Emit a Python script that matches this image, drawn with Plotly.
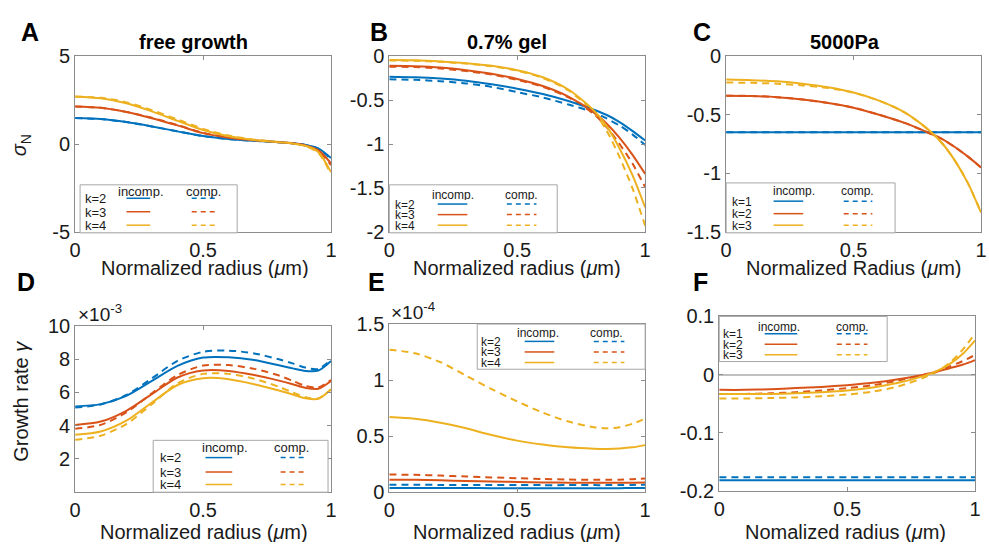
import plotly.graph_objects as go

# ---------------- data ----------------
radius = [0, 0.1, 0.2, 0.3, 0.4, 0.5, 0.6, 0.7, 0.8, 0.85, 0.9, 0.95, 1.0]

# Panel A: free growth, sigma_N
A_k2_inc = [1.48, 1.42, 1.25, 1.0, 0.72, 0.45, 0.28, 0.18, 0.1, 0.05, -0.05, -0.25, -0.8]
A_k3_inc = [2.14, 2.06, 1.82, 1.47, 1.06, 0.62, 0.36, 0.21, 0.1, 0.04, -0.08, -0.35, -1.1]
A_k4_inc = [2.69, 2.6, 2.32, 1.86, 1.32, 0.8, 0.44, 0.23, 0.1, 0.03, -0.1, -0.45, -1.6]
A_k2_cmp = [1.48, 1.42, 1.25, 1.0, 0.72, 0.45, 0.28, 0.18, 0.1, 0.05, -0.05, -0.27, -0.85]
A_k3_cmp = [2.14, 2.06, 1.83, 1.49, 1.08, 0.64, 0.37, 0.21, 0.1, 0.04, -0.09, -0.38, -1.2]
A_k4_cmp = [2.7, 2.63, 2.37, 1.93, 1.4, 0.86, 0.48, 0.25, 0.11, 0.03, -0.12, -0.5, -1.7]

# Panel B: 0.7% gel, sigma_N
B_k2_inc = [-0.234, -0.24, -0.255, -0.28, -0.32, -0.37, -0.43, -0.51, -0.61, -0.67, -0.75, -0.85, -0.96]
B_k3_inc = [-0.11, -0.115, -0.13, -0.16, -0.2, -0.26, -0.34, -0.46, -0.64, -0.77, -0.93, -1.12, -1.34]
B_k4_inc = [-0.044, -0.047, -0.06, -0.08, -0.11, -0.16, -0.24, -0.38, -0.62, -0.8, -1.05, -1.35, -1.72]
B_k2_cmp = [-0.263, -0.27, -0.285, -0.31, -0.35, -0.41, -0.47, -0.55, -0.64, -0.71, -0.79, -0.89, -1.01]
B_k3_cmp = [-0.12, -0.125, -0.14, -0.17, -0.21, -0.27, -0.35, -0.47, -0.66, -0.81, -1.0, -1.22, -1.49]
B_k4_cmp = [-0.05, -0.053, -0.065, -0.085, -0.115, -0.165, -0.25, -0.39, -0.64, -0.85, -1.15, -1.5, -1.93]

# Panel C: 5000Pa, sigma_N
C_k1_inc = [-0.65] * 13
C_k2_inc = [-0.337, -0.34, -0.35, -0.37, -0.40, -0.44, -0.5, -0.57, -0.66, -0.71, -0.78, -0.86, -0.95]
C_k3_inc = [-0.2, -0.205, -0.215, -0.235, -0.265, -0.31, -0.38, -0.48, -0.64, -0.75, -0.9, -1.09, -1.335]
C_k1_cmp = [-0.65] * 13
C_k2_cmp = [-0.337, -0.34, -0.35, -0.37, -0.40, -0.44, -0.5, -0.57, -0.66, -0.71, -0.78, -0.86, -0.95]
C_k3_cmp = [-0.225, -0.228, -0.235, -0.25, -0.272, -0.312, -0.38, -0.48, -0.64, -0.75, -0.9, -1.09, -1.335]

# Panel D: free growth, growth rate (x 1e-3)
D_k2_inc = [5.16, 5.3, 5.8, 6.7, 7.6, 8.1, 8.12, 7.95, 7.62, 7.45, 7.3, 7.32, 7.9]
D_k3_inc = [4.05, 4.25, 4.9, 5.9, 6.9, 7.32, 7.3, 7.05, 6.7, 6.5, 6.28, 6.22, 6.69]
D_k4_inc = [3.46, 3.65, 4.3, 5.4, 6.45, 6.86, 6.8, 6.5, 6.1, 5.88, 5.65, 5.62, 6.18]
D_k2_cmp = [5.1, 5.28, 5.85, 6.85, 7.9, 8.45, 8.52, 8.35, 7.98, 7.75, 7.5, 7.42, 7.97]
D_k3_cmp = [3.82, 4.05, 4.8, 5.95, 7.05, 7.62, 7.65, 7.42, 7.0, 6.7, 6.4, 6.3, 6.75]
D_k4_cmp = [3.15, 3.4, 4.1, 5.3, 6.55, 7.12, 7.12, 6.82, 6.32, 6.0, 5.72, 5.64, 6.2]

# Panel E: 0.7% gel, growth rate (x 1e-4)
E_k2_inc = [0.037, 0.037, 0.037, 0.037, 0.036, 0.036, 0.036, 0.036, 0.036, 0.036, 0.036, 0.037, 0.037]
E_k3_inc = [0.111, 0.11, 0.106, 0.1, 0.095, 0.091, 0.087, 0.085, 0.084, 0.084, 0.084, 0.085, 0.086]
E_k4_inc = [0.67, 0.655, 0.62, 0.57, 0.51, 0.46, 0.425, 0.40, 0.388, 0.386, 0.39, 0.40, 0.42]
E_k2_cmp = [0.066, 0.066, 0.065, 0.065, 0.064, 0.064, 0.063, 0.063, 0.063, 0.063, 0.064, 0.065, 0.066]
E_k3_cmp = [0.157, 0.155, 0.148, 0.14, 0.132, 0.125, 0.118, 0.113, 0.11, 0.11, 0.112, 0.116, 0.123]
E_k4_cmp = [1.27, 1.24, 1.16, 1.04, 0.92, 0.81, 0.71, 0.63, 0.58, 0.57, 0.58, 0.61, 0.657]

# Panel F: 5000Pa, growth rate
F_k1_inc = [-0.181] * 13
F_k2_inc = [-0.026, -0.026, -0.025, -0.023, -0.021, -0.018, -0.014, -0.008, 0.0, 0.005, 0.011, 0.017, 0.025]
F_k3_inc = [-0.033, -0.033, -0.033, -0.032, -0.03, -0.027, -0.022, -0.014, -0.002, 0.006, 0.018, 0.035, 0.059]
F_k1_cmp = [-0.176] * 13
F_k2_cmp = [-0.033, -0.033, -0.032, -0.03, -0.027, -0.023, -0.018, -0.01, 0.0, 0.006, 0.014, 0.023, 0.034]
F_k3_cmp = [-0.041, -0.041, -0.040, -0.039, -0.037, -0.034, -0.029, -0.02, -0.005, 0.005, 0.02, 0.042, 0.071]

x_ticks = [0, 0.5, 1]
x_ticktext = ["0", "0.5", "1"]
A_yticks = [-5, 0, 5]
B_yticks = [-2, -1.5, -1, -0.5, 0]
C_yticks = [-1.5, -1, -0.5, 0]
D_yticks = [2, 4, 6, 8, 10]
E_yticks = [0, 0.5, 1, 1.5]
F_yticks = [-0.2, -0.1, 0, 0.1]

# ---------------- style / layout ----------------
W, H = 989, 556
BLUE, RED, YEL = "#0072BD", "#D95319", "#EDB120"
COLORS = [BLUE, RED, YEL]
FONT = "Liberation Sans, Arial, Helvetica, sans-serif"
TXT = "#1a1a1a"
AXC = "#8c8c8c"


def px(x):
    return x / W


def py(y):
    return 1 - y / H


def fmt(v):
    return "%g" % v


panels = [
    dict(inc=[A_k2_inc, A_k3_inc, A_k4_inc], cmp=[A_k2_cmp, A_k3_cmp, A_k4_cmp],
         yr=[-5, 5], yt=A_yticks, box=(70, 47, 329, 230)),
    dict(inc=[B_k2_inc, B_k3_inc, B_k4_inc], cmp=[B_k2_cmp, B_k3_cmp, B_k4_cmp],
         yr=[-2, 0], yt=B_yticks, box=(388, 47, 647, 230)),
    dict(inc=[C_k1_inc, C_k2_inc, C_k3_inc], cmp=[C_k1_cmp, C_k2_cmp, C_k3_cmp],
         yr=[-1.5, 0], yt=C_yticks, box=(729, 47, 987, 230)),
    dict(inc=[D_k2_inc, D_k3_inc, D_k4_inc], cmp=[D_k2_cmp, D_k3_cmp, D_k4_cmp],
         yr=[0, 10], yt=D_yticks, box=(70, 328, 329, 501)),
    dict(inc=[E_k2_inc, E_k3_inc, E_k4_inc], cmp=[E_k2_cmp, E_k3_cmp, E_k4_cmp],
         yr=[0, 1.5], yt=E_yticks, box=(388, 326, 647, 501)),
    dict(inc=[F_k1_inc, F_k2_inc, F_k3_inc], cmp=[F_k1_cmp, F_k2_cmp, F_k3_cmp],
         yr=[-0.2, 0.1], yt=F_yticks, box=(722, 318, 981, 500), zero=True),
]

fig = go.Figure()
layout = dict(
    width=W, height=H, margin=dict(l=0, r=0, t=0, b=0),
    paper_bgcolor="white", plot_bgcolor="white", showlegend=False,
    font=dict(family=FONT, color=TXT, size=20),
)

for i, p in enumerate(panels):
    n = i + 1
    xa = "x" if n == 1 else "x%d" % n
    ya = "y" if n == 1 else "y%d" % n
    # compressible (dashed) first, incompressible (solid) on top
    for series, dash in ((p["cmp"], "7px,5px"), (p["inc"], "solid")):
        for c, ys in zip(COLORS, series):
            fig.add_trace(go.Scatter(
                x=radius, y=ys, xaxis=xa, yaxis=ya, mode="lines",
                line=dict(color=c, width=2, dash=dash, shape="spline", smoothing=0.8),
                hoverinfo="skip"))
    x0, y0, x1, y1 = p["box"]
    common = dict(showline=True, linecolor=AXC, linewidth=1, mirror="ticks",
                  ticks="inside", ticklen=4, tickcolor=AXC, showgrid=False,
                  tickfont=dict(size=20, color=TXT, family=FONT))
    layout["xaxis" if n == 1 else "xaxis%d" % n] = dict(
        domain=[px(x0), px(x1)], anchor=ya, range=[0, 1],
        tickvals=x_ticks, ticktext=x_ticktext, zeroline=False, **common)
    layout["yaxis" if n == 1 else "yaxis%d" % n] = dict(
        domain=[py(y1), py(y0)], anchor=xa, range=p["yr"],
        tickvals=p["yt"], ticktext=[fmt(v) for v in p["yt"]],
        zeroline=bool(p.get("zero")), zerolinecolor="#c0c0c0", zerolinewidth=1.5,
        **common)

annotations = []
shapes = []


def text(x, y, s, size=20, bold=False, angle=0, xanchor="center", yanchor="middle", h=None):
    a = dict(
        x=px(x), y=py(y), xref="paper", yref="paper", text=("<b>%s</b>" % s) if bold else s,
        showarrow=False, textangle=angle, xanchor=xanchor, yanchor=yanchor,
        borderpad=0,
        font=dict(family=FONT, size=size, color="black" if bold else TXT))
    if h is not None:
        a["height"] = h
    annotations.append(a)


# panel letters
for L, x, y in (("A", 24, 22), ("B", 378, 22), ("C", 705, 22),
                ("D", 20, 282), ("E", 375, 282), ("F", 703, 282)):
    text(x, y, L, size=25, bold=True)

# titles
text(190, 32, "free growth", size=20, bold=True)
text(507, 32, "0.7% gel", size=20, bold=True)
text(849, 32, "5000Pa", size=20, bold=True)

# x axis titles
MU = "<i>μ</i>"
text(201, 268, "Normalized radius (%sm)" % MU, size=20, h=20)
text(517, 268, "Normalized radius (%sm)" % MU, size=20, h=20)
text(858, 268, "Normalized Radius (%sm)" % MU, size=20, h=20)
text(200, 542, "Normalized radius (%sm)" % MU, size=20, h=20)
text(517, 542, "Normalized radius (%sm)" % MU, size=20, h=20)
text(850, 542, "Nomalized radius (%sm)" % MU, size=20, h=20)

# y axis titles
text(15, 140, "<i>σ</i><sub>N</sub>", size=20, angle=-90)
text(15, 406, "Growth rate <i>γ</i>", size=20, angle=-90)

# exponent labels
text(72, 314, "×10<sup>-3</sup>", size=19, xanchor="left")
text(389, 312, "×10<sup>-4</sup>", size=19, xanchor="left")

# custom legends (incomp. / comp.)
legends = [
    dict(box=(75, 181, 234, 231), hy=187, ic=137, cc=200, sol=(122, 146), dsh=(188, 213),
         kx=79, rows=[195, 209, 223], labels=["k=2", "k=3", "k=4"], fs=13),
    dict(box=(388, 181, 558, 231), hy=191, ic=452, cc=522, sol=(437, 467), dsh=(507, 537),
         kx=393, rows=[201, 212, 223], labels=["k=2", "k=3", "k=4"], fs=12),
    dict(box=(729, 179, 900, 231), hy=187, ic=798, cc=862, sol=(777, 807), dsh=(848, 877),
         kx=734, rows=[198, 211, 223], labels=["k=1", "k=2", "k=3"], fs=12),
    dict(box=(149, 447, 326, 501), hy=455, ic=222, cc=289, sol=(202, 229), dsh=(278, 302),
         kx=155, rows=[465, 480, 493], labels=["k=2", "k=3", "k=4"], fs=13),
    dict(box=(477, 326, 647, 373), hy=335, ic=539, cc=608, sol=(525, 555), dsh=(595, 626),
         kx=480, rows=[344, 355, 366], labels=["k=2", "k=3", "k=4"], fs=12),
    dict(box=(722, 318, 892, 365), hy=328, ic=783, cc=857, sol=(768, 801), dsh=(841, 872),
         kx=725, rows=[336, 347, 358], labels=["k=1", "k=2", "k=3"], fs=12),
]

for lg in legends:
    bx0, by0, bx1, by1 = lg["box"]
    sp = lg["rows"][1] - lg["rows"][0]
    shapes.append(dict(type="rect", xref="paper", yref="paper",
                       x0=px(bx0), x1=px(bx1), y0=py(by1), y1=py(by0),
                       fillcolor="white", line=dict(color="#a6a6a6", width=1), layer="above"))
    text(lg["ic"], lg["hy"], "incomp.", size=lg["fs"], h=sp)
    text(lg["cc"], lg["hy"], "comp.", size=lg["fs"], h=sp)
    for c, ry, lab in zip(COLORS, lg["rows"], lg["labels"]):
        text(lg["kx"], ry, lab, size=lg["fs"], xanchor="left", h=sp)
        shapes.append(dict(type="line", xref="paper", yref="paper",
                           x0=px(lg["sol"][0]), x1=px(lg["sol"][1]), y0=py(ry), y1=py(ry),
                           line=dict(color=c, width=1.5), layer="above"))
        shapes.append(dict(type="line", xref="paper", yref="paper",
                           x0=px(lg["dsh"][0]), x1=px(lg["dsh"][1]), y0=py(ry), y1=py(ry),
                           line=dict(color=c, width=1.5, dash="5px,4px"), layer="above"))

layout["annotations"] = annotations
layout["shapes"] = shapes
fig.update_layout(**layout)
fig.write_html("out.html")
